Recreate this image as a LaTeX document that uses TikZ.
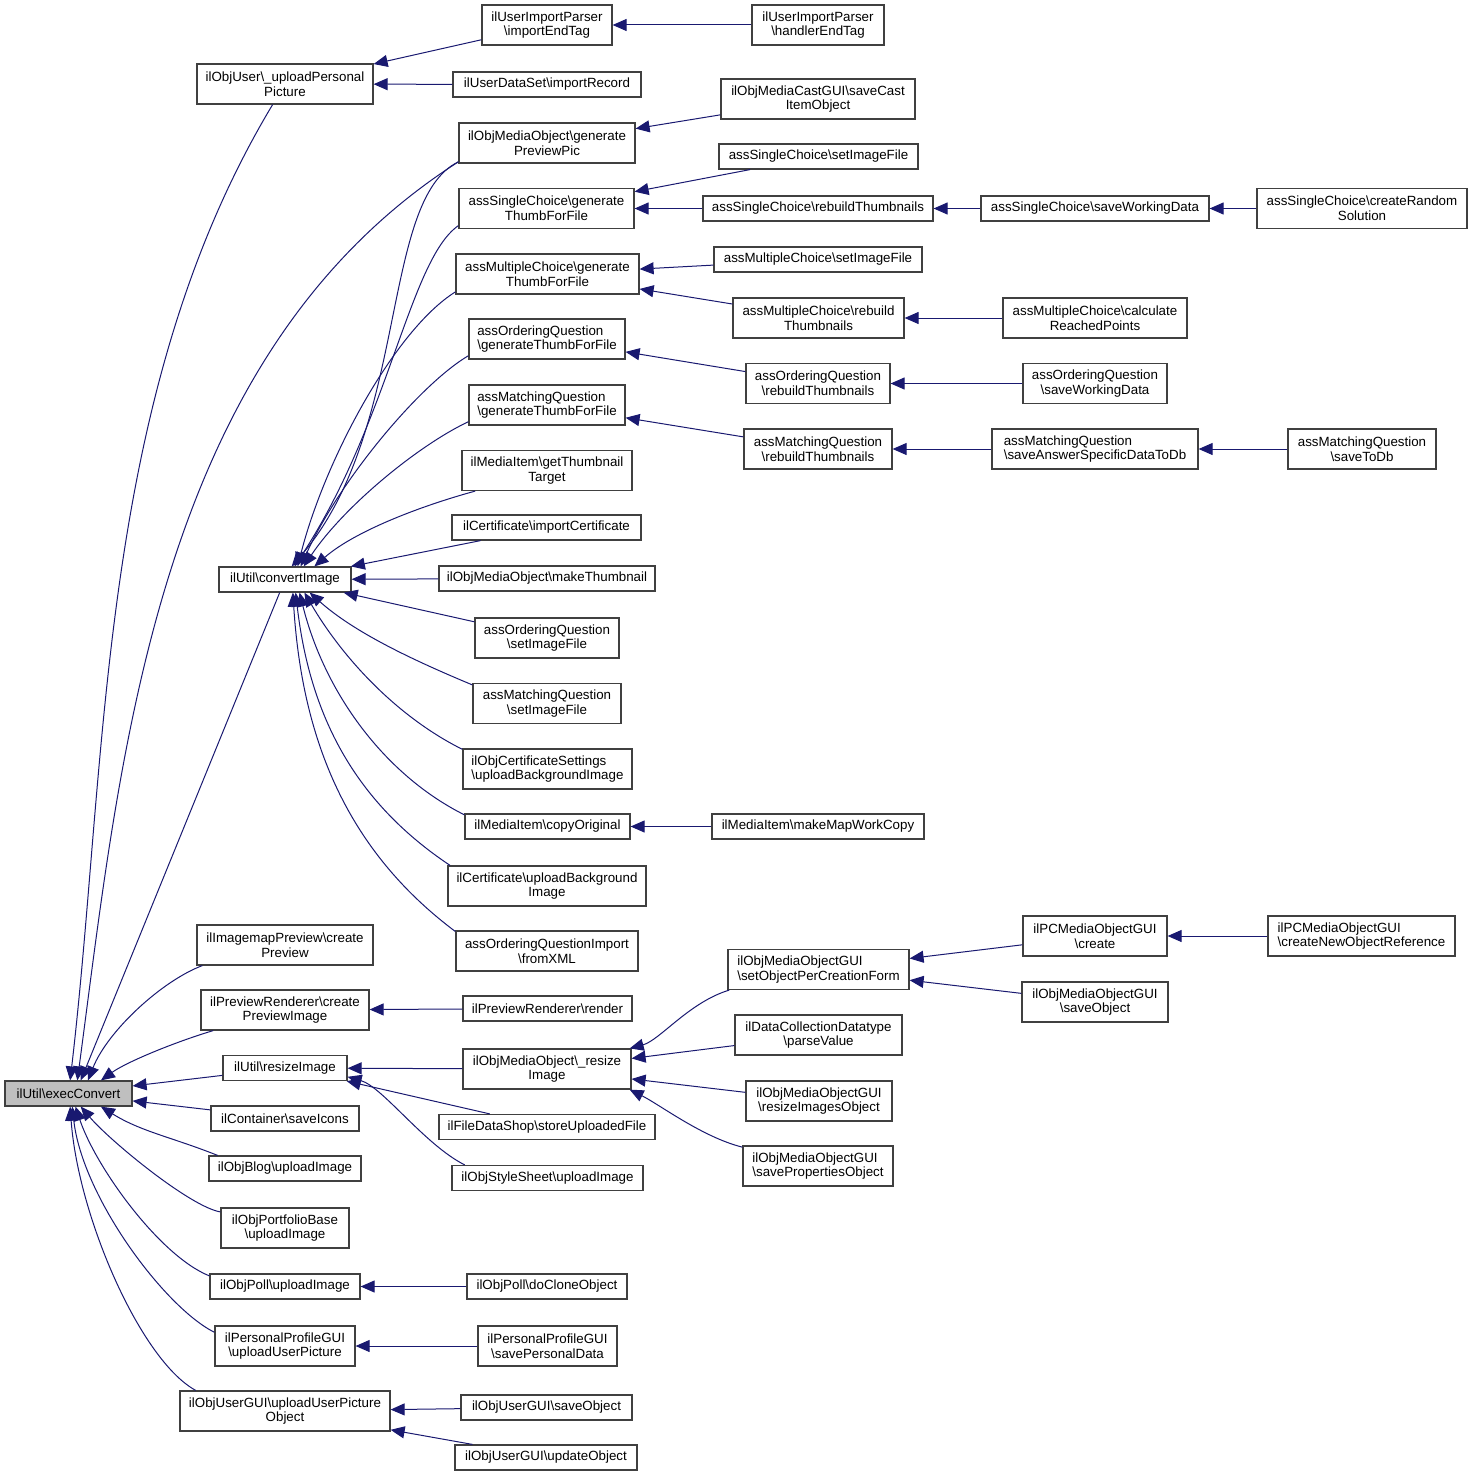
\documentclass[tikz,border=0pt]{standalone}
\usepackage{fontspec}
\setmainfont{Liberation Sans}
\usetikzlibrary{arrows.meta}
\definecolor{edgeblue}{RGB}{25,25,112}
\definecolor{boxgray}{RGB}{64,64,64}
\definecolor{curgray}{RGB}{191,191,191}
\newcommand{\bsl}{\textbackslash}
\tikzset{
  fn/.style={rectangle, draw=boxgray, line width=0.6pt, fill=white, inner sep=0pt,
    minimum height=12.5pt, align=center, font=\fontsize{6.67}{7.3}\selectfont},
  fntwo/.style={fn, minimum height=20pt},
  fnleft/.style={fntwo, align=left},
  fncur/.style={fn, fill=curgray},
  call/.style={draw=edgeblue, line width=0.5pt, -{Triangle[length=7pt,width=6pt]}}
}

\begin{document}
\begin{tikzpicture}[x=0.5pt, y=-0.5pt]
    \useasboundingbox (0,0) rectangle (1472,1477);

    \node (execConvert) at (68.5,1093.5) [fncur, minimum width=63.5pt] {ilUtil\bsl execConvert};

    \node (uploadPic)  at (285,84)     [fntwo, minimum width=88pt]  {ilObjUser\bsl\_uploadPersonal\\Picture};
    \node (convImg)    at (285,579.5)  [fn, minimum width=66pt]     {ilUtil\bsl convertImage};
    \node (mapPreview) at (285,945)    [fntwo, minimum width=88pt]  {ilImagemapPreview\bsl create\\Preview};
    \node (prevCreate) at (285,1010)   [fntwo, minimum width=84pt]  {ilPreviewRenderer\bsl create\\PreviewImage};
    \node (resizeImg)  at (285,1068)   [fn, minimum width=62pt]     {ilUtil\bsl resizeImage};
    \node (saveIcons)  at (285,1118.5) [fn, minimum width=74pt]     {ilContainer\bsl saveIcons};
    \node (blogUpload) at (285,1168.5) [fn, minimum width=76pt]     {ilObjBlog\bsl uploadImage};
    \node (portUpload) at (285,1228)   [fntwo, minimum width=64pt]  {ilObjPortfolioBase\\\bsl uploadImage};
    \node (pollUpload) at (285,1286.5) [fn, minimum width=75pt]     {ilObjPoll\bsl uploadImage};
    \node (profUpload) at (285,1346)   [fntwo, minimum width=70pt]  {ilPersonalProfileGUI\\\bsl uploadUserPicture};
    \node (userUpload) at (285,1411)   [fntwo, minimum width=105pt] {ilObjUserGUI\bsl uploadUserPicture\\Object};

    \node (importEnd)    at (547,25)      [fntwo, minimum width=65pt]   {ilUserImportParser\\\bsl importEndTag};
    \node (importRec)    at (547,84.5)    [fn, minimum width=94pt]      {ilUserDataSet\bsl importRecord};
    \node (genPreview)   at (547,143)     [fntwo, minimum width=88pt]   {ilObjMediaObject\bsl generate\\PreviewPic};
    \node (scGen)        at (546.5,208.5) [fntwo, minimum width=87.5pt] {assSingleChoice\bsl generate\\ThumbForFile};
    \node (mcGen)        at (547.5,274)   [fntwo, minimum width=91.5pt] {assMultipleChoice\bsl generate\\ThumbForFile};
    \node (oqGen)        at (547,339)     [fnleft, minimum width=78pt]  {assOrderingQuestion\\\bsl generateThumbForFile};
    \node (mqGen)        at (547,405)     [fnleft, minimum width=78pt]  {assMatchingQuestion\\\bsl generateThumbForFile};
    \node (getThumb)     at (547,470.5)   [fntwo, minimum width=85pt]   {ilMediaItem\bsl getThumbnail\\Target};
    \node (importCert)   at (546.5,527.5) [fn, minimum width=94.5pt]    {ilCertificate\bsl importCertificate};
    \node (makeThumb)    at (547,578.5)   [fn, minimum width=108pt]     {ilObjMediaObject\bsl makeThumbnail};
    \node (oqSetImg)     at (547,638)     [fntwo, minimum width=72pt]   {assOrderingQuestion\\\bsl setImageFile};
    \node (mqSetImg)     at (547,703.5)   [fntwo, minimum width=74pt]   {assMatchingQuestion\\\bsl setImageFile};
    \node (certSettings) at (547.5,769)   [fnleft, minimum width=84.5pt] {ilObjCertificateSettings\\\bsl uploadBackgroundImage};
    \node (copyOrig)     at (547.5,826.5) [fn, minimum width=82.5pt]    {ilMediaItem\bsl copyOriginal};
    \node (certUpBg)     at (547,886)     [fntwo, minimum width=99pt]   {ilCertificate\bsl uploadBackground\\Image};
    \node (oqImport)     at (547,951)     [fntwo, minimum width=91pt]   {assOrderingQuestionImport\\\bsl fromXML};
    \node (prevRender)   at (547.5,1008.5) [fn, minimum width=84.5pt]   {ilPreviewRenderer\bsl render};
    \node (mobResize)    at (547,1069)    [fntwo, minimum width=84pt]   {ilObjMediaObject\bsl\_resize\\Image};
    \node (storeFile)    at (547,1127)    [fn, minimum width=108pt]     {ilFileDataShop\bsl storeUploadedFile};
    \node (styleUpload)  at (547.5,1178)  [fn, minimum width=95.5pt]    {ilObjStyleSheet\bsl uploadImage};
    \node (pollClone)    at (547,1286.5)  [fn, minimum width=80pt]      {ilObjPoll\bsl doCloneObject};
    \node (profSave)     at (547.5,1346)  [fntwo, minimum width=69.5pt] {ilPersonalProfileGUI\\\bsl savePersonalData};
    \node (userSave)     at (546.5,1407.5) [fn, minimum width=85.5pt]   {ilObjUserGUI\bsl saveObject};
    \node (userUpdate)   at (546,1457.5)  [fn, minimum width=91pt]      {ilObjUserGUI\bsl updateObject};

    \node (handlerEnd) at (818,25)     [fntwo, minimum width=66pt]   {ilUserImportParser\\\bsl handlerEndTag};
    \node (saveCast)   at (818,99)     [fntwo, minimum width=97pt]   {ilObjMediaCastGUI\bsl saveCast\\ItemObject};
    \node (scSetImg)   at (818.5,156.5) [fn, minimum width=99.5pt]   {assSingleChoice\bsl setImageFile};
    \node (scRebuild)  at (818,208.5)  [fn, minimum width=115pt]     {assSingleChoice\bsl rebuildThumbnails};
    \node (mcSetImg)   at (818,259.5)  [fn, minimum width=104pt]     {assMultipleChoice\bsl setImageFile};
    \node (mcRebuild)  at (818.5,318)  [fntwo, minimum width=85.5pt] {assMultipleChoice\bsl rebuild\\Thumbnails};
    \node (oqRebuild)  at (818,383.5)  [fntwo, minimum width=72pt]   {assOrderingQuestion\\\bsl rebuildThumbnails};
    \node (mqRebuild)  at (818,449)    [fntwo, minimum width=74pt]   {assMatchingQuestion\\\bsl rebuildThumbnails};
    \node (mapCopy)    at (818,826.5)  [fn, minimum width=106pt]     {ilMediaItem\bsl makeMapWorkCopy};
    \node (setObjForm) at (818.5,969.5) [fnleft, minimum width=90.5pt] {ilObjMediaObjectGUI\\\bsl setObjectPerCreationForm};
    \node (parseVal)   at (818.5,1035) [fntwo, minimum width=83.5pt] {ilDataCollectionDatatype\\\bsl parseValue};
    \node (resizeObj)  at (819,1101)   [fntwo, minimum width=73pt]   {ilObjMediaObjectGUI\\\bsl resizeImagesObject};
    \node (saveProps)  at (818,1166)   [fnleft, minimum width=75pt]  {ilObjMediaObjectGUI\\\bsl savePropertiesObject};

    \node (scSaveWork) at (1095,208.5) [fn, minimum width=114pt]    {assSingleChoice\bsl saveWorkingData};
    \node (mcCalc)     at (1095,318)   [fntwo, minimum width=92pt]  {assMultipleChoice\bsl calculate\\ReachedPoints};
    \node (oqSaveWork) at (1095,383.5) [fntwo, minimum width=72pt]  {assOrderingQuestion\\\bsl saveWorkingData};
    \node (mqSaveAns)  at (1095,449)   [fnleft, minimum width=103pt] {assMatchingQuestion\\\bsl saveAnswerSpecificDataToDb};
    \node (pcCreate)   at (1095,936)   [fntwo, minimum width=72pt]  {ilPCMediaObjectGUI\\\bsl create};
    \node (mobSave)    at (1095,1002)  [fntwo, minimum width=73pt]  {ilObjMediaObjectGUI\\\bsl saveObject};

    \node (scRandom) at (1362,208.5) [fntwo, minimum width=105pt]  {assSingleChoice\bsl createRandom\\Solution};
    \node (mqSaveDb) at (1362,449)   [fntwo, minimum width=74pt]   {assMatchingQuestion\\\bsl saveToDb};
    \node (pcNewRef) at (1361.5,936) [fnleft, minimum width=93.5pt] {ilPCMediaObjectGUI\\\bsl createNewObjectReference};

    \draw[call] (handlerEnd) -- (importEnd);
    \draw[call] (importEnd) -- (uploadPic);
    \draw[call] (importRec) -- (uploadPic);
    \draw[call] (saveCast) -- (genPreview);
    \draw[call] (scSetImg) -- (scGen);
    \draw[call] (scRebuild) -- (scGen);
    \draw[call] (scSaveWork) -- (scRebuild);
    \draw[call] (scRandom) -- (scSaveWork);
    \draw[call] (mcSetImg) -- (mcGen);
    \draw[call] (mcRebuild) -- (mcGen);
    \draw[call] (mcCalc) -- (mcRebuild);
    \draw[call] (oqRebuild) -- (oqGen);
    \draw[call] (oqSaveWork) -- (oqRebuild);
    \draw[call] (mqRebuild) -- (mqGen);
    \draw[call] (mqSaveAns) -- (mqRebuild);
    \draw[call] (mqSaveDb) -- (mqSaveAns);
    \draw[call] (importCert) -- (convImg);
    \draw[call] (makeThumb) -- (convImg);
    \draw[call] (oqSetImg) -- (convImg);
    \draw[call] (mapCopy) -- (copyOrig);
    \draw[call] (pcNewRef) -- (pcCreate);
    \draw[call] (pcCreate) -- (setObjForm);
    \draw[call] (mobSave) -- (setObjForm);
    \draw[call] (parseVal) -- (mobResize);
    \draw[call] (resizeObj) -- (mobResize);
    \draw[call] (prevRender) -- (prevCreate);
    \draw[call] (mobResize) -- (resizeImg);
    \draw[call] (storeFile) -- (resizeImg.-12);
    \draw[call] (pollClone) -- (pollUpload);
    \draw[call] (profSave) -- (profUpload);
    \draw[call] (userSave) -- (userUpload);
    \draw[call] (userUpdate) -- (userUpload);
    \draw[call] (convImg) -- (execConvert.47);
    \draw[call] (resizeImg) -- (execConvert);
    \draw[call] (saveIcons) -- (execConvert);

    \draw[call] (uploadPic.-121) .. controls +(-175,291) and +(38,-325) .. (execConvert.83);
    \draw[call] (genPreview.192) .. controls +(-302,193) and +(44,-330) .. (execConvert.56);
    \draw[call] (mapPreview.194) .. controls +(-40,15) and +(20,-50) .. (execConvert.34);
    \draw[call] (prevCreate.196) .. controls +(-40,12) and +(25,-18) .. (execConvert.22);
    \draw[call] (blogUpload.169) .. controls +(-45,-18) and +(40,25) .. (execConvert.-22);
    \draw[call] (portUpload.166) .. controls +(-30,-5) and +(30,35) .. (execConvert.-47);
    \draw[call] (pollUpload.172) .. controls +(-50,-20) and +(20,60) .. (execConvert.-62);
    \draw[call] (profUpload.169) .. controls +(-50,-25) and +(10,90) .. (execConvert.-74);
    \draw[call] (userUpload.167) .. controls +(-55,-30) and +(8,110) .. (execConvert.-83);

    \draw[call] (genPreview.192) .. controls +(-79,38) and +(118,-136) .. (convImg.63);
    \draw[call] (scGen.191) .. controls +(-49,34) and +(95,-146) .. (convImg.54);
    \draw[call] (mcGen.191) .. controls +(-61,38) and +(27,-106) .. (convImg.46);
    \draw[call] (oqGen.192) .. controls +(-49,29) and +(39,-86) .. (convImg.40);
    \draw[call] (mqGen.192) .. controls +(-49,23) and +(41,-61) .. (convImg.35);
    \draw[call] (getThumb.196) .. controls +(-55,15) and +(40,-35) .. (convImg.24);
    \draw[call] (mqSetImg.166) .. controls +(-60,-25) and +(45,40) .. (convImg.-28);
    \draw[call] (certSettings.167) .. controls +(-70,-35) and +(35,60) .. (convImg.-34);
    \draw[call] (copyOrig.172) .. controls +(-80,-40) and +(25,100) .. (convImg.-42);
    \draw[call] (certUpBg.168) .. controls +(-90,-60) and +(15,130) .. (convImg.-51);
    \draw[call] (oqImport.168) .. controls +(-100,-75) and +(10,160) .. (convImg.-59);

    \draw[call] (styleUpload.171) .. controls +(-40,-20) and +(35,10) .. (resizeImg.-8);
    \draw[call] (setObjForm.193) .. controls +(-40,12) and +(30,-8) .. (mobResize.14);
    \draw[call] (saveProps.166) .. controls +(-40,-10) and +(30,15) .. (mobResize.-14);
\end{tikzpicture}
\end{document}
